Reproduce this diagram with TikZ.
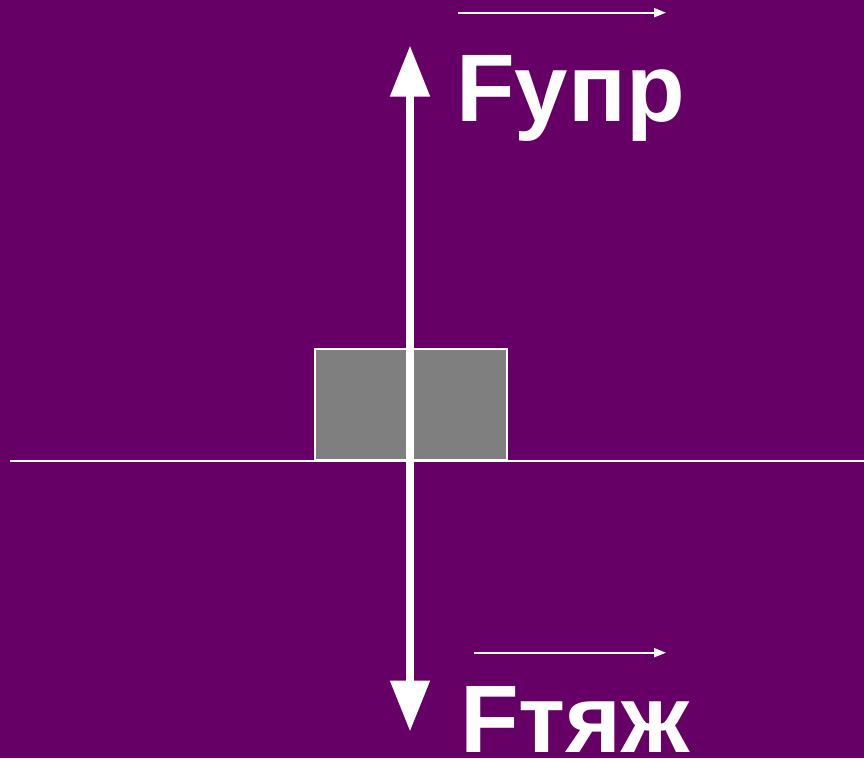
\documentclass[tikz,border=0pt]{standalone}
\usepackage{fontspec}
\setmainfont{Liberation Sans}
\usetikzlibrary{arrows.meta}
\definecolor{bgpurple}{HTML}{660066}
\definecolor{boxgray}{HTML}{7F7F7F}
\begin{document}
\begin{tikzpicture}[x=1pt,y=-1pt,
  bigtip/.tip={Triangle[width=38pt,length=51pt]},
  smalltip/.tip={Triangle[width=9pt,length=12pt]},
  lbl/.style={text=white,inner sep=0pt,anchor=base west,font=\fontsize{96}{96}\selectfont\bfseries}]
\fill[bgpurple] (0,0) rectangle (864,758);
\useasboundingbox (0,0) rectangle (864,758);
% ground line
\coordinate (gl) at (10,460.5);
\coordinate (gr) at (864,460.5);
\draw[white,line width=2pt] (gl) -- (gr);
% block
\node[draw=white,line width=2pt,fill=boxgray,minimum width=192pt,minimum height=111pt,inner sep=0pt,anchor=south west] (block) at (314,460.5) {};
% force arrows
\coordinate (top) at (410,45.5);
\coordinate (bot) at (410,731.5);
\draw[white,line width=8pt,bigtip-bigtip] (bot) -- (top);
% labels
\node[lbl] (fup) at (456,121.5) {Fупр};
\node[lbl] (ftj) at (460,752) {Fтяж};
% vector arrows over labels
\coordinate (a1s) at (458,12.7);
\coordinate (a1e) at (666,12.7);
\draw[white,line width=2pt,-smalltip] (a1s) -- (a1e);
\coordinate (a2s) at (474,652.7);
\coordinate (a2e) at (666,652.7);
\draw[white,line width=2pt,-smalltip] (a2s) -- (a2e);
\end{tikzpicture}
\end{document}
